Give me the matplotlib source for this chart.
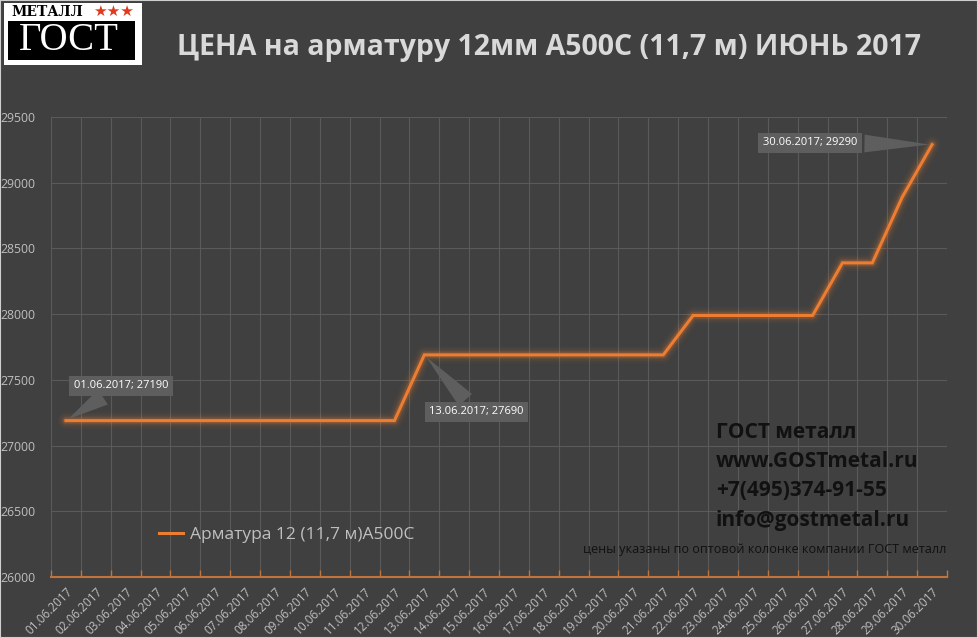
import matplotlib
matplotlib.use("Agg")
import matplotlib.pyplot as plt
from matplotlib.patches import Rectangle
import numpy as np

plt.rcParams['font.family'] = ['Open Sans', 'DejaVu Sans']

dates = ["%02d.06.2017" % d for d in range(1, 31)]
prices = [27190]*12 + [27690]*9 + [27990]*5 + [28390, 28390, 28890, 29290]
y_ticks = [26000, 26500, 27000, 27500, 28000, 28500, 29000, 29500]
series_name = "Арматура 12 (11,7 м)А500С"
title = "ЦЕНА на арматуру 12мм А500С (11,7 м) ИЮНЬ 2017"
contacts = ["ГОСТ металл", "www.GOSTmetal.ru", "+7(495)374-91-55", "info@gostmetal.ru"]
footnote = "цены указаны по оптовой колонке компании ГОСТ металл"
labelled = [0, 12, 29]

W, H = 978, 638
BG = "#404040"
ORANGE = "#ED7D31"
fig = plt.figure(figsize=(W/100, H/100), dpi=100, facecolor=BG)

def fx(px): return px / W
def fy(py): return 1 - py / H

ax = fig.add_axes([fx(51), fy(577), fx(947) - fx(51), fy(117) - fy(577)])
ax.set_facecolor(BG)
x = np.arange(len(dates))

# glow
for lw, a in [(12, 0.04), (9, 0.07), (6, 0.11), (4.5, 0.16)]:
    ax.plot(x, prices, color=ORANGE, lw=lw, alpha=a, solid_capstyle='round', solid_joinstyle='round')
line, = ax.plot(x, prices, color=ORANGE, lw=2.2, label=series_name, solid_joinstyle='miter')

ax.set_xlim(-0.5, len(dates) - 0.5)
ax.set_ylim(y_ticks[0], y_ticks[-1])
ax.set_yticks(y_ticks)
ax.set_xticks(x)
ax.set_xticklabels(dates, rotation=45, ha='right', rotation_mode='anchor', fontsize=8.5, color='#bfbfbf')
ax.set_xticks(np.arange(len(dates) + 1) - 0.5, minor=True)
ax.tick_params(axis='x', which='major', length=0, pad=6)
ax.tick_params(axis='x', which='minor', length=5, direction='in', color='#c0743c', width=1)
ax.tick_params(axis='y', length=0, labelsize=8.8, labelcolor='#bfbfbf', pad=11)
ax.grid(True, axis='y', which='major', color='#5a5a5a', lw=0.8)
ax.grid(True, axis='x', which='minor', color='#5a5a5a', lw=0.8)
ax.set_axisbelow(True)
for s in ['top', 'right', 'left']:
    ax.spines[s].set_visible(False)
ax.spines['bottom'].set_color('#c0743c')
ax.spines['bottom'].set_linewidth(1.5)

offsets = {0: (55, 35), 12: (52, -57), 29: (-122, 2)}
for i in labelled:
    ax.annotate("%s; %d" % (dates[i], prices[i]), xy=(x[i], prices[i]), xytext=offsets[i],
                textcoords='offset pixels', ha='center', va='center', fontsize=8, color='white',
                bbox=dict(boxstyle='square,pad=0.4', fc='#5e5e5e', ec='none'),
                arrowprops=dict(arrowstyle='wedge,tail_width=1.6,shrink_factor=0.5', fc='#5e5e5e', ec='none'),
                zorder=5)

leg = ax.legend(loc='center left', bbox_to_anchor=(fx(143), fy(535)), bbox_transform=fig.transFigure,
                frameon=False, fontsize=12.5, handlelength=1.4, handletextpad=0.4)
for t in leg.get_texts():
    t.set_color('#bfbfbf')

fig.text(fx(549), fy(47), title, ha='center', va='center', fontsize=20.5, fontweight='bold', color='#d9d9d9')

for k, c in enumerate(contacts):
    fig.text(fx(716), fy(432 + 29.5 * k), c, ha='left', va='center', fontsize=15, fontweight='bold', color='#111111')
fig.text(fx(583), fy(549), footnote, ha='left', va='center', fontsize=9.1, color='#111111')

# logo
fig.add_artist(Rectangle((fx(4), fy(65)), fx(138), fy(3) - fy(65), transform=fig.transFigure, fc='white', ec='none'))
fig.add_artist(Rectangle((fx(8), fy(60)), fx(127), fy(21) - fy(60), transform=fig.transFigure, fc='black', ec='none'))
fig.text(fx(47), fy(12), "МЕТАЛЛ", ha='center', va='center', fontsize=10, fontweight='bold', color='black', family='DejaVu Serif')
fig.text(fx(113), fy(11), "★★★", ha='center', va='center', fontsize=11, color='#e03a1e', family='DejaVu Sans')
fig.text(fx(69), fy(41), "ГОСТ", ha='center', va='center', fontsize=28, color='white', family='Liberation Serif')

fig.add_artist(Rectangle((0, 0), 1, 1, transform=fig.transFigure, fc='none', ec='#cfcfcf', lw=1.5))

fig.savefig("out.png", dpi=100, facecolor=BG)
